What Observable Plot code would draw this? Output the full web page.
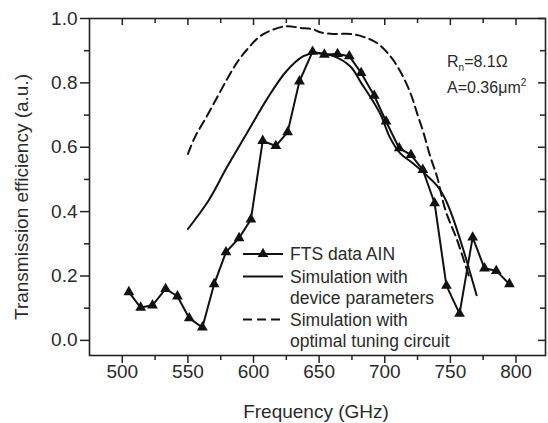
<!DOCTYPE html>
<html><head><meta charset="utf-8">
<script src="https://cdn.jsdelivr.net/npm/d3@7"></script>
<script src="https://cdn.jsdelivr.net/npm/@observablehq/plot@0.6"></script>
<style>
html,body{margin:0;padding:0;background:#fff;}
</style>
</head><body><div id="chart"></div>
<script>
// FTS measured data (triangles)
const ftsFreq = [505, 514, 523, 533, 542, 551, 561, 570, 579, 589, 598, 607, 617, 626, 635, 645, 654, 664, 673, 682, 692, 701, 711, 720, 729, 738, 747, 757, 767, 776, 785, 795];
const ftsVal  = [0.150, 0.102, 0.109, 0.160, 0.137, 0.069, 0.040, 0.175, 0.274, 0.318, 0.376, 0.620, 0.604, 0.647, 0.805, 0.897, 0.888, 0.890, 0.883, 0.831, 0.760, 0.680, 0.597, 0.576, 0.530, 0.426, 0.170, 0.083, 0.320, 0.224, 0.216, 0.175];
// Simulation with device parameters (solid)
const simFreq = [550, 566, 580, 595, 610, 625, 638, 647, 661, 674, 682, 690, 697, 704, 712, 720, 730, 740, 746, 752, 760, 770];
const simVal  = [0.346, 0.436, 0.540, 0.644, 0.748, 0.836, 0.883, 0.893, 0.883, 0.850, 0.800, 0.750, 0.700, 0.630, 0.580, 0.555, 0.520, 0.480, 0.440, 0.380, 0.280, 0.140];
// Simulation with optimal tuning circuit (dashed)
const optFreq = [550, 555.5, 564.4, 572, 579.6, 587.2, 594.9, 605, 615.2, 625.4, 635.5, 645.7, 650.8, 661, 673.7, 683.8, 694, 704.2, 711.8, 719.5, 724.6, 729.6, 734.7, 739.8, 746.2, 755.1, 764.5];
const optVal  = [0.579, 0.633, 0.696, 0.753, 0.810, 0.862, 0.903, 0.945, 0.966, 0.976, 0.971, 0.966, 0.957, 0.952, 0.952, 0.943, 0.924, 0.883, 0.836, 0.769, 0.706, 0.644, 0.571, 0.509, 0.405, 0.312, 0.195];

const xMajorTicks = [500, 550, 600, 650, 700, 750, 800];
const xMinorTicks = [525, 575, 625, 675, 725, 775];
const yMajorTicks = [0, 0.2, 0.4, 0.6, 0.8, 1.0];
const yMinorTicks = [0.1, 0.3, 0.5, 0.7, 0.9];

const xTitle = "Frequency (GHz)";
const yTitle = "Transmission efficiency (a.u.)";
const legendFts = ["FTS data AIN"];
const legendSim = ["Simulation with", "device parameters"];
const legendOpt = ["Simulation with", "optimal tuning circuit"];

const W = 548, H = 423, mL = 89, mR = 3, mT = 18, mB = 68;
const PH = H - mT - mB, PW = W - mL - mR;
const FONT = "'Liberation Sans', Arial, Helvetica, sans-serif";
const INK = "#111";
const TXT = "#2a2a2a";

const fts = ftsFreq.map((f, i) => ({f, v: ftsVal[i]}));
const sim = simFreq.map((f, i) => ({f, v: simVal[i]}));
const opt = optFreq.map((f, i) => ({f, v: optVal[i]}));

const chart = Plot.plot({
  width: W, height: H,
  marginLeft: mL, marginRight: mR, marginTop: mT, marginBottom: mB,
  x: {domain: [475, 822.5]},
  y: {domain: [-0.047, 1.0]},
  style: {fontFamily: FONT, color: TXT, background: "#fff", overflow: "visible"},
  marks: [
    Plot.axisX({ticks: xMajorTicks, tickSize: 8, tickPadding: 1, fontSize: 19, label: null, tickFormat: d => String(d), stroke: "#222", strokeWidth: 1.5}),
    Plot.axisX({ticks: xMinorTicks, tickSize: 5, label: null, tickFormat: () => "", stroke: "#222", strokeWidth: 1.5}),
    Plot.axisY({ticks: yMajorTicks, tickSize: 9, tickPadding: 3, fontSize: 19, label: null, tickFormat: d3.format(".1f"), stroke: "#222", strokeWidth: 1.5}),
    Plot.axisY({ticks: yMinorTicks, tickSize: 5, label: null, tickFormat: () => "", stroke: "#222", strokeWidth: 1.5}),
    // inward mirror ticks on top and right
    Plot.tickX(xMajorTicks, {x: d => d, insetBottom: PH - 7, stroke: "#222", strokeWidth: 1.5}),
    Plot.tickX(xMinorTicks, {x: d => d, insetBottom: PH - 5, stroke: "#222", strokeWidth: 1.5}),
    Plot.tickY(yMajorTicks, {y: d => d, insetLeft: PW - 7, stroke: "#222", strokeWidth: 1.5}),
    Plot.tickY(yMinorTicks, {y: d => d, insetLeft: PW - 5, stroke: "#222", strokeWidth: 1.5}),
    Plot.frame({stroke: "#222", strokeWidth: 1.6}),
    Plot.line(opt, {x: "f", y: "v", curve: "catmull-rom", stroke: INK, strokeWidth: 2, strokeDasharray: "9,5"}),
    Plot.line(sim, {x: "f", y: "v", curve: "catmull-rom", stroke: INK, strokeWidth: 2}),
    Plot.line(fts, {x: "f", y: "v", stroke: INK, strokeWidth: 2}),
    Plot.dot(fts, {x: "f", y: "v", symbol: "triangle", r: 4, fill: INK, stroke: "none"})
  ]
});
document.getElementById("chart").appendChild(chart);

const svg = d3.select(chart);
// axis titles
svg.append("text")
  .attr("x", 316).attr("y", 411)
  .attr("text-anchor", "middle").attr("dominant-baseline", "central")
  .attr("font-family", FONT).attr("font-size", 19).attr("fill", TXT)
  .text(xTitle);
svg.append("text")
  .attr("transform", "translate(21,197) rotate(-90)")
  .attr("text-anchor", "middle").attr("dominant-baseline", "central")
  .attr("font-family", FONT).attr("font-size", 19).attr("fill", TXT)
  .text(yTitle);

// legend
const lg = svg.append("g").attr("font-family", FONT).attr("font-size", 17.5)
  .attr("fill", TXT).attr("text-anchor", "start");
const lx0 = 243, lx1 = 283, tx = 290, step = 21.5;
const rows = [
  {y: 254, dash: null, tri: true, lines: legendFts},
  {y: 276.5, dash: null, tri: false, lines: legendSim},
  {y: 319.5, dash: "9,5", tri: false, lines: legendOpt}
];
rows.forEach(r => {
  const ln = lg.append("line").attr("x1", lx0).attr("x2", lx1).attr("y1", r.y).attr("y2", r.y)
    .attr("stroke", INK).attr("stroke-width", 2);
  if (r.dash) ln.attr("stroke-dasharray", r.dash);
  if (r.tri) lg.append("path").attr("d", d3.symbol(d3.symbolTriangle, Math.PI * 16)())
    .attr("transform", `translate(${(lx0 + lx1) / 2},${r.y})`).attr("fill", INK);
  r.lines.forEach((t, i) => {
    lg.append("text").attr("x", tx).attr("y", r.y + i * step)
      .attr("text-anchor", "start")
      .attr("dominant-baseline", "central").text(t);
  });
});

// annotation
const an = svg.append("g").attr("font-family", FONT).attr("font-size", 16)
  .attr("fill", TXT).attr("text-anchor", "start");
const t1 = an.append("text").attr("x", 447).attr("y", 66.5).attr("text-anchor", "start");
t1.append("tspan").text("R");
t1.append("tspan").attr("font-size", 10).attr("dy", 4).text("n");
t1.append("tspan").attr("dy", -4).text("=8.1Ω");
const t2 = an.append("text").attr("x", 447).attr("y", 93).attr("text-anchor", "start");
t2.append("tspan").text("A=0.36μm");
t2.append("tspan").attr("font-size", 10).attr("dy", -7).text("2");
</script>
</body></html>
